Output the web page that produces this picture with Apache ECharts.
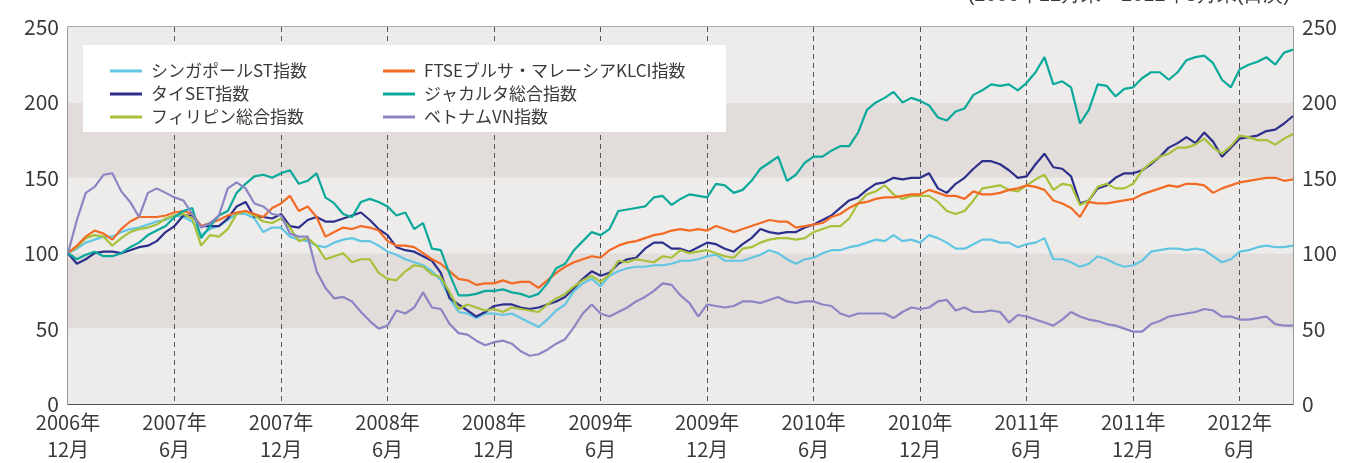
<!DOCTYPE html>
<html><head><meta charset="utf-8">
<script src="https://cdn.jsdelivr.net/npm/echarts@6/dist/echarts.min.js"></script>
<style>html,body{margin:0;padding:0;background:#fff}#c{width:1350px;height:463px}</style>
</head><body><div id="c"></div>
<script>
const tickLabels = ['2006年\n12月','2007年\n6月','2007年\n12月','2008年\n6月','2008年\n12月','2009年\n6月','2009年\n12月','2010年\n6月','2010年\n12月','2011年\n6月','2011年\n12月','2012年\n6月'];
const yTicks = [0, 50, 100, 150, 200, 250];
const names = ['シンガポールST指数','タイSET指数','フィリピン総合指数','FTSEブルサ・マレーシアKLCI指数','ジャカルタ総合指数','ベトナムVN指数'];
const colors = ['#62c6e2','#2d2f8c','#a7c13b','#f26b24','#0aa99b','#8b85c4'];

const singapore = [100,103,107,109,111,111,114,116,117,119,121,122,125,124,121,112,116,118,122,126,126,123,114,117,117,
 111,109,108,105,104,107,109,110,108,108,105,101,99,96,94,92,88,82,70,61,60,57,60,60,
 59,60,57,54,51,56,62,66,75,80,83,78,85,88,90,91,91,92,92,93,95,95,96,98,
 99,95,95,95,97,99,102,100,96,93,96,97,100,102,102,104,105,107,109,108,112,108,109,107,
 112,110,107,103,103,106,109,109,107,107,104,106,107,110,96,96,94,91,93,98,96,93,91,92,
 95,101,102,103,103,102,103,102,98,94,96,101,102,104,105,104,104,105];
const thai = [100,93,96,100,101,101,100,102,104,105,108,114,118,125,125,118,118,118,123,131,134,124,124,123,126,
 118,117,122,124,121,121,123,125,127,122,116,112,104,102,101,98,95,87,70,66,62,58,61,65,
 66,66,64,63,64,66,68,71,77,83,88,85,87,93,96,97,103,107,107,103,103,101,104,107,
 106,103,101,106,110,116,114,113,114,114,117,119,122,125,130,135,137,142,146,147,150,149,150,150,
 153,143,140,146,150,156,161,161,159,155,150,151,159,166,157,156,151,133,135,143,145,150,153,153,
 155,159,164,170,173,177,173,180,174,164,170,176,177,178,181,182,186,191];
const philippines = [100,104,110,112,111,105,110,114,116,117,119,123,125,126,123,105,112,111,116,126,128,125,121,120,123,
 117,108,110,105,96,98,100,94,96,96,87,83,82,88,92,91,86,84,74,63,66,64,62,63,
 61,64,63,62,61,66,70,73,78,82,85,81,86,95,94,96,95,94,98,97,102,100,101,102,
 100,98,97,103,104,107,109,110,110,109,110,114,116,118,118,123,133,139,141,145,139,136,138,138,
 138,134,128,126,128,135,143,144,145,142,141,145,149,152,142,146,145,132,135,144,146,143,143,146,
 155,160,164,166,170,170,172,176,170,166,171,178,177,175,175,172,176,179];
const malaysia = [100,105,111,115,113,109,116,121,124,124,124,125,127,128,126,118,120,122,125,127,128,126,124,130,133,
 138,128,131,124,111,114,117,116,118,117,115,108,105,105,104,100,96,93,88,83,82,79,80,80,
 82,80,81,81,77,82,87,91,94,96,98,97,102,105,107,108,110,112,113,115,116,115,116,115,
 118,116,114,116,118,120,122,121,121,117,118,119,120,124,126,130,133,134,136,137,137,138,139,139,
 142,140,138,138,136,141,139,139,140,142,143,145,144,142,135,133,130,124,134,133,133,134,135,136,
 139,141,143,145,144,146,146,145,140,143,145,147,148,149,150,150,148,149];
const jakarta = [100,96,99,101,98,98,100,104,107,112,115,118,124,128,130,110,118,125,128,140,146,151,152,150,153,
 155,146,148,153,137,133,126,124,134,136,134,131,125,127,116,120,103,102,86,72,72,73,75,75,
 76,74,73,71,73,80,90,93,102,108,114,112,116,128,129,130,131,137,138,132,136,139,138,137,
 146,145,140,142,148,156,160,164,148,152,160,164,164,168,171,171,180,195,200,203,207,200,203,201,
 198,190,188,194,196,205,208,212,211,212,208,213,220,230,212,214,210,186,195,212,211,204,209,210,
 216,220,220,215,220,228,230,231,226,215,210,222,225,227,230,225,233,235];
const vietnam = [100,122,140,144,152,153,141,134,124,140,143,140,137,135,126,117,120,125,143,147,143,133,131,126,125,
 113,111,111,88,77,70,71,68,61,55,50,52,62,60,64,74,64,63,53,47,46,42,39,41,
 42,40,35,32,33,36,40,43,51,60,66,60,58,61,64,68,71,75,80,79,72,67,58,66,
 65,64,65,68,68,67,69,71,68,67,68,68,66,65,60,58,60,60,60,60,57,61,64,63,
 64,68,69,62,64,61,61,62,61,54,59,58,56,54,52,56,61,58,56,55,53,52,50,48,
 48,53,55,58,59,60,61,63,62,58,58,56,56,57,58,53,52,52];

// half-month date grid, end of Dec 2006 onward
const dates = [];
for (let i = 0; i < singapore.length; i++) {
  const mo = 11 + Math.floor(i / 2);
  dates.push((2006 + Math.floor(mo / 12)) + '/' + ((mo % 12) + 1) + (i % 2 ? '/15' : '/末'));
}

const FONT = '"Noto Sans CJK JP", "Noto Sans", sans-serif';
const chart = echarts.init(document.getElementById('c'), null, {renderer: 'canvas'});
const allData = [singapore, thai, philippines, malaysia, jakarta, vietnam];
const yAxisBase = {
  type: 'value', min: yTicks[0], max: yTicks[yTicks.length - 1], interval: 50,
  axisLine: {show: false}, axisTick: {show: false}, splitLine: {show: false},
  axisLabel: {fontSize: 21, color: '#3a3a3a', fontFamily: FONT}
};
chart.setOption({
  animation: false,
  backgroundColor: '#fff',
  grid: {left: 68, right: 57, top: 27, bottom: 59, show: true, borderColor: '#555', borderWidth: 1.2, backgroundColor: 'transparent'},
  xAxis: {
    type: 'category', data: dates, boundaryGap: false,
    axisLine: {show: true, lineStyle: {color: '#555', width: 1.2}},
    axisTick: {show: false},
    axisLabel: {
      interval: (i) => i % 12 === 0,
      formatter: (v, i) => tickLabels[Math.round(i / 12)],
      fontSize: 20, lineHeight: 27, color: '#3a3a3a', fontFamily: FONT, margin: 5
    },
    splitLine: {show: true, interval: (i) => i % 12 === 0 && i > 0, lineStyle: {color: '#555', type: [5, 4], width: 1}}
  },
  yAxis: [
    Object.assign({}, yAxisBase, {position: 'left',
      axisLabel: Object.assign({}, yAxisBase.axisLabel, {margin: 9}),
      splitArea: {show: true, areaStyle: {color: ['#eeeceb', '#e2dcda']}}}),
    Object.assign({}, yAxisBase, {position: 'right',
      axisLabel: Object.assign({}, yAxisBase.axisLabel, {margin: 9}),
      splitArea: {show: false}})
  ],
  legend: [
    {left: 105, top: 56, orient: 'vertical', itemGap: 3, itemWidth: 32, itemHeight: 3, icon: 'rect',
     data: [names[0], names[1], names[2]], textStyle: {fontSize: 17, lineHeight: 20, color: '#3a3a3a', fontFamily: FONT, padding: [0, 0, 0, 4]}},
    {left: 378, top: 56, orient: 'vertical', itemGap: 3, itemWidth: 32, itemHeight: 3, icon: 'rect',
     data: [names[3], names[4], names[5]], textStyle: {fontSize: 17, lineHeight: 20, color: '#3a3a3a', fontFamily: FONT, padding: [0, 0, 0, 4]}}
  ],
  graphic: [
    {type: 'rect', shape: {x: 83, y: 45, width: 643, height: 87}, style: {fill: '#fff'}, z: 3},
    {type: 'text', x: 1290, y: -15, style: {text: '(2006年12月末～2012年8月末(日次)', fontSize: 20, fill: '#3a3a3a', font: '20px ' + FONT, textAlign: 'right', textVerticalAlign: 'top'}, z: 5}
  ],
  series: names.map((n, k) => ({
    name: n, type: 'line', data: allData[k], showSymbol: false, symbol: 'none',
    lineStyle: {color: colors[k], width: 2.2}, itemStyle: {color: colors[k]}, z: 2
  }))
});
</script></body></html>
